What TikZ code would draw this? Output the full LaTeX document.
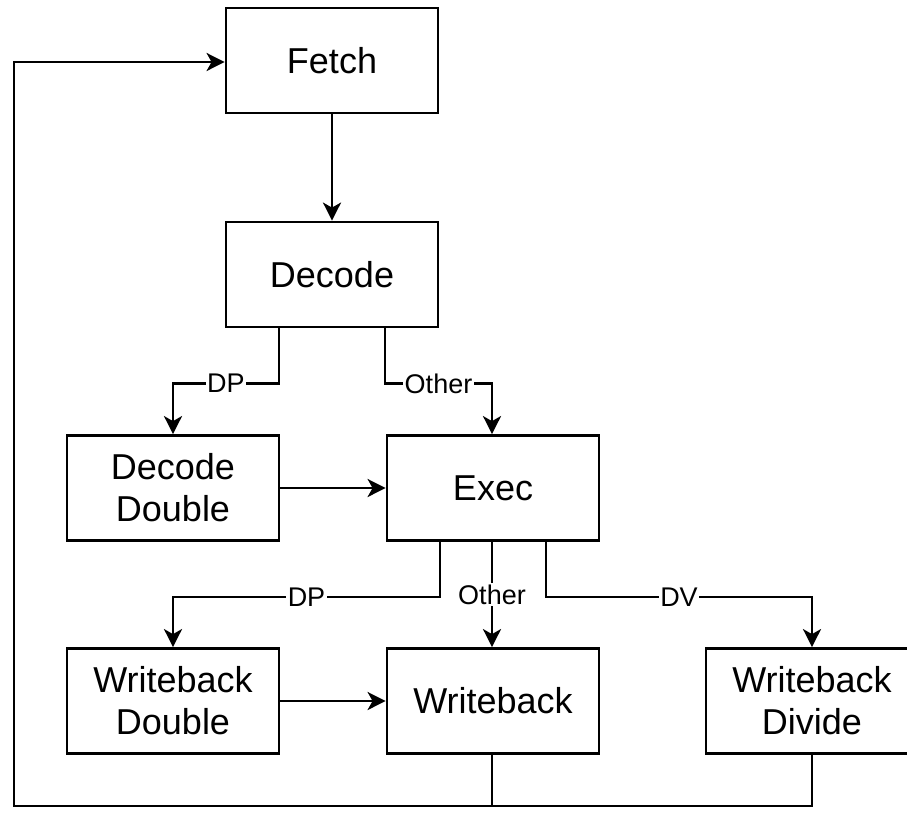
\documentclass[tikz,border=0pt]{standalone}
\usepackage{fontspec}
\setmainfont{Liberation Sans}
\usetikzlibrary{arrows.meta}
\begin{document}
\begin{tikzpicture}[x=1pt,y=-1pt,
  box/.style={draw,line width=2.8pt,minimum width=212pt,minimum height=105pt,inner sep=0pt,align=center,font=\fontsize{36}{42}\selectfont},
  lbl/.style={fill=white,inner sep=1.5pt,font=\fontsize{27}{30}\selectfont},
  conn/.style={line width=2.8pt},
  arr/.style={conn,-{Stealth[length=18pt,width=18pt,inset=5pt]}}]
\clip (0,0) rectangle (907,812);
\fill[white] (0,0) rectangle (907,812);
\node[box] (fetch) at (332,60.5) {Fetch};
\node[box] (decode) at (332,274.5) {Decode};
\node[box] (dd) at (173,488) {Decode\\Double};
\node[box] (exec) at (493,488) {Exec};
\node[box] (wbd) at (173,701) {Writeback\\Double};
\node[box] (wb) at (493,701) {Writeback};
\node[box] (wbv) at (812,701) {Writeback\\Divide};
\coordinate (loopL) at (14,806);
\coordinate (join) at (492,806);
\draw[arr] (fetch) -- (decode);
\draw[arr] ([xshift=-53pt]decode.south) -- ++(0,55) -| node[lbl,pos=0.25]{DP} (dd.north);
\draw[arr] ([xshift=53pt]decode.south) -- ++(0,55) -| node[lbl,pos=0.25]{Other} ([xshift=-1pt]exec.north);
\draw[arr] (dd) -- (exec);
\draw[arr] ([xshift=-53pt]exec.south) -- ++(0,55) -| node[lbl,pos=0.25]{DP} (wbd.north);
\draw[arr] ([xshift=-1pt]exec.south) -- node[lbl]{Other} ([xshift=-1pt]wb.north);
\draw[arr] ([xshift=53pt]exec.south) -- ++(0,55) -| node[lbl,pos=0.25]{DV} (wbv.north);
\draw[arr] (wbd) -- (wb);
\draw[arr] ([xshift=-1pt]wb.south) -- (join) -| (loopL) |- ([yshift=-1.5pt]fetch.west);
\draw[conn] (wbv.south) |- (join);
\end{tikzpicture}
\end{document}
